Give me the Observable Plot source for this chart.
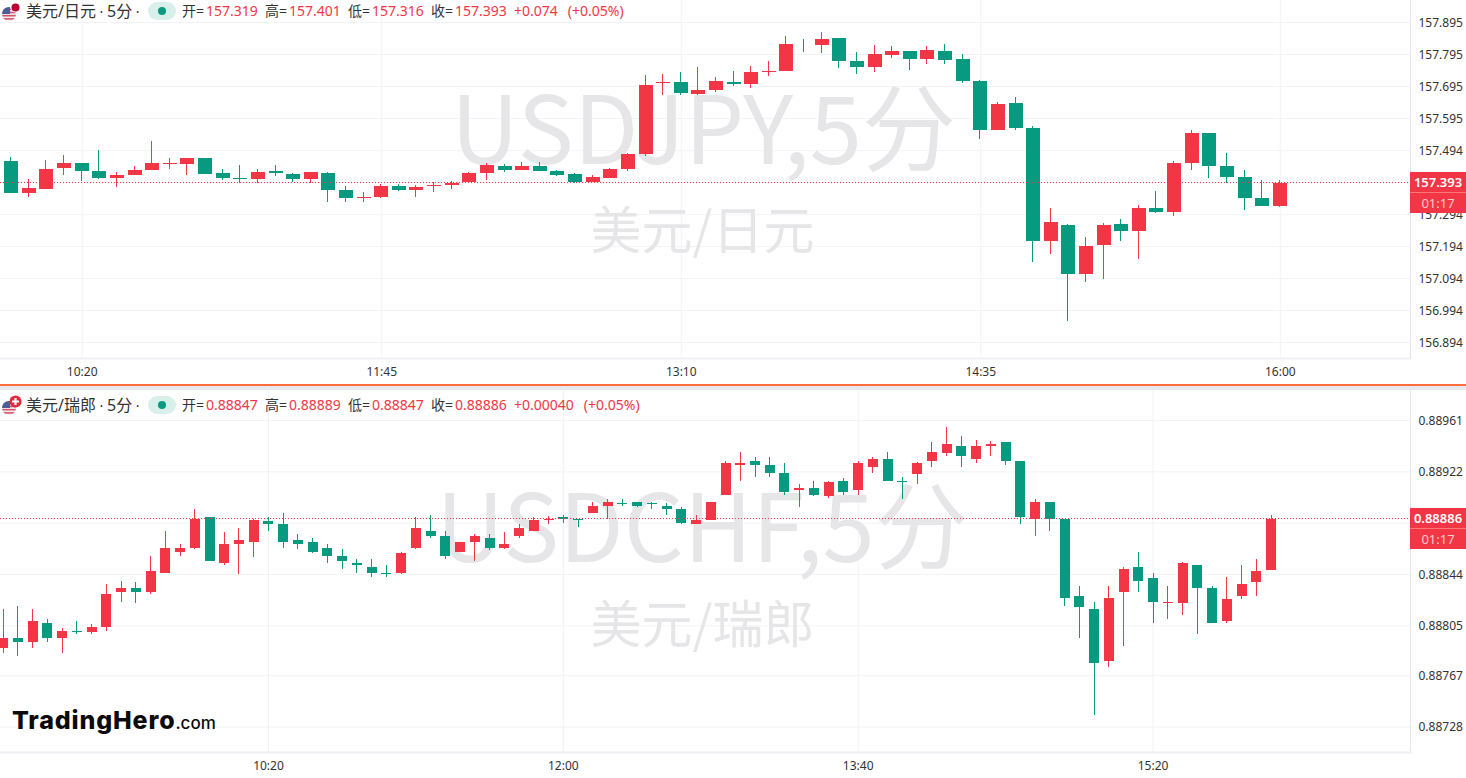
<!DOCTYPE html>
<html><head><meta charset="utf-8">
<script src="https://cdn.jsdelivr.net/npm/d3@7"></script>
<script src="https://cdn.jsdelivr.net/npm/@observablehq/plot@0.6"></script>
<style>
html,body{margin:0;padding:0;background:#fff;width:1466px;height:778px;overflow:hidden;font-family:"Noto Sans","Noto Sans CJK SC",sans-serif}
#stage{position:relative;width:1466px;height:778px}
svg{display:block}
.sep1{height:2px;background:#ff6d3f}.sep2{height:4px;background:#e8e8ef}
.h{position:absolute;font-size:14px;line-height:20px;white-space:nowrap;color:#333}
.p{font-size:16px}
.r{color:#f23645}
.v{margin-left:2px}
.box{position:absolute;left:1410px;width:56px;height:20px;line-height:20px;background:#f23645;text-align:center;font-size:13px;color:#fff}
.pill{position:absolute;left:148px;width:28px;height:18px;border-radius:9px;background:#d8efea}
.pill i{position:absolute;left:10px;top:5px;width:8px;height:8px;border-radius:4px;background:#089981}
.logo{position:absolute;left:12px;top:700px;font-family:Inter,"Noto Sans",sans-serif;font-weight:800;font-size:25px;letter-spacing:0.85px;line-height:40px;color:#0b0b0b;white-space:nowrap}
.logo span{font-size:17px;font-weight:500;letter-spacing:0;margin-left:0}
</style></head><body><div id="stage"><div id="c1"></div><div class="sep1"></div><div class="sep2"></div><div id="c2"></div></div>
<script>
const jpyOpen=[157.461,157.361,157.373,157.439,157.455,157.429,157.408,157.417,157.433,157.451,157.451,157.470,157.423,157.408,157.404,157.429,157.420,157.404,157.423,157.370,157.345,157.348,157.383,157.370,157.383,157.386,157.394,157.423,157.445,157.433,157.445,157.429,157.420,157.395,157.408,157.436,157.483,157.705,157.708,157.670,157.683,157.708,157.702,157.739,157.742,157.827,157.824,157.845,157.773,157.755,157.792,157.805,157.780,157.805,157.780,157.711,157.558,157.642,157.564,157.210,157.260,157.107,157.198,157.264,157.242,157.314,157.301,157.455,157.548,157.445,157.411,157.345,157.319];
const jpyClose=[157.361,157.376,157.436,157.455,157.429,157.408,157.417,157.433,157.455,157.455,157.470,157.420,157.408,157.404,157.426,157.423,157.404,157.426,157.370,157.345,157.348,157.383,157.370,157.379,157.386,157.392,157.423,157.448,157.433,157.445,157.429,157.417,157.395,157.411,157.436,157.483,157.698,157.708,157.673,157.683,157.711,157.702,157.739,157.742,157.827,157.825,157.842,157.773,157.755,157.795,157.805,157.780,157.808,157.777,157.711,157.558,157.639,157.564,157.210,157.270,157.107,157.195,157.260,157.242,157.314,157.301,157.455,157.548,157.445,157.411,157.345,157.320,157.393];
const jpyHigh=[157.473,157.404,157.464,157.479,157.455,157.495,157.426,157.445,157.523,157.470,157.470,157.470,157.436,157.448,157.436,157.448,157.423,157.426,157.426,157.383,157.364,157.389,157.389,157.386,157.395,157.398,157.426,157.455,157.451,157.458,157.458,157.433,157.423,157.417,157.439,157.486,157.730,157.733,157.739,157.755,157.723,157.742,157.758,157.773,157.852,157.842,157.864,157.845,157.802,157.824,157.820,157.805,157.820,157.827,157.795,157.714,157.645,157.661,157.570,157.314,157.264,157.223,157.267,157.279,157.323,157.367,157.461,157.558,157.548,157.486,157.433,157.401,157.401];
const jpyLow=[157.361,157.348,157.373,157.417,157.398,157.404,157.379,157.417,157.433,157.436,157.417,157.420,157.401,157.392,157.392,157.414,157.395,157.392,157.332,157.332,157.332,157.345,157.367,157.348,157.364,157.373,157.394,157.401,157.426,157.433,157.429,157.414,157.392,157.395,157.408,157.429,157.476,157.667,157.667,157.667,157.677,157.695,157.689,157.727,157.742,157.802,157.799,157.752,157.733,157.739,157.783,157.745,157.764,157.764,157.705,157.530,157.558,157.558,157.145,157.170,156.960,157.082,157.092,157.210,157.154,157.298,157.289,157.433,157.408,157.392,157.307,157.320,157.316];
const jpyGridTicks=[157.895,157.795,157.695,157.595,157.494,157.394,157.294,157.194,157.094,156.994,156.894];
const jpyLabelTicks=[157.895,157.795,157.695,157.595,157.494,157.294,157.194,157.094,156.994,156.894];
const jpyTimeBars=[4,21,38,55,72];
const jpyTimeLabels=["10:20","11:45","13:10","14:35","16:00"];

const chfOpen=[0.88788,0.88795,0.88792,0.88807,0.88795,0.88801,0.88800,0.88804,0.88830,0.88833,0.88830,0.88845,0.88861,0.88864,0.88887,0.88852,0.88867,0.88868,0.88884,0.88882,0.88870,0.88868,0.88864,0.88858,0.88852,0.88849,0.88845,0.88845,0.88864,0.88877,0.88873,0.88861,0.88868,0.88871,0.88864,0.88873,0.88877,0.88885,0.88887,0.88886,0.88890,0.88896,0.88898,0.88899,0.88898,0.88896,0.88893,0.88882,0.88885,0.88904,0.88927,0.88930,0.88927,0.88921,0.88908,0.88909,0.88903,0.88915,0.88908,0.88925,0.88931,0.88915,0.88920,0.88930,0.88936,0.88941,0.88931,0.88941,0.88944,0.88930,0.88886,0.88899,0.88886,0.88827,0.88817,0.88778,0.88830,0.88849,0.88841,0.88822,0.88822,0.88851,0.88833,0.88808,0.88827,0.88838,0.88847];
const chfClose=[0.88795,0.88792,0.88808,0.88795,0.88801,0.88800,0.88804,0.88829,0.88833,0.88830,0.88846,0.88864,0.88864,0.88886,0.88854,0.88867,0.88870,0.88885,0.88882,0.88868,0.88867,0.88861,0.88858,0.88854,0.88851,0.88845,0.88844,0.88860,0.88879,0.88873,0.88858,0.88868,0.88873,0.88864,0.88867,0.88879,0.88885,0.88886,0.88886,0.88885,0.88896,0.88899,0.88897,0.88896,0.88897,0.88893,0.88883,0.88885,0.88899,0.88928,0.88928,0.88927,0.88921,0.88906,0.88909,0.88904,0.88914,0.88906,0.88928,0.88931,0.88915,0.88914,0.88928,0.88937,0.88943,0.88934,0.88941,0.88943,0.88930,0.88887,0.88899,0.88886,0.88826,0.88819,0.88776,0.88826,0.88848,0.88839,0.88823,0.88823,0.88852,0.88833,0.88807,0.88825,0.88836,0.88846,0.88886];
const chfHigh=[0.88817,0.88820,0.88817,0.88810,0.88803,0.88808,0.88806,0.88836,0.88839,0.88838,0.88858,0.88877,0.88867,0.88893,0.88887,0.88876,0.88879,0.88886,0.88887,0.88890,0.88874,0.88871,0.88867,0.88863,0.88855,0.88855,0.88851,0.88861,0.88887,0.88889,0.88877,0.88868,0.88874,0.88874,0.88876,0.88882,0.88887,0.88888,0.88889,0.88886,0.88899,0.88901,0.88901,0.88899,0.88899,0.88898,0.88895,0.88889,0.88899,0.88930,0.88937,0.88933,0.88933,0.88928,0.88912,0.88915,0.88915,0.88917,0.88930,0.88933,0.88937,0.88918,0.88929,0.88944,0.88956,0.88949,0.88946,0.88945,0.88944,0.88930,0.88901,0.88899,0.88886,0.88835,0.88823,0.88835,0.88849,0.88861,0.88845,0.88835,0.88853,0.88851,0.88835,0.88842,0.88851,0.88855,0.88889];
const chfLow=[0.88784,0.88782,0.88788,0.88792,0.88784,0.88798,0.88798,0.88801,0.88823,0.88822,0.88829,0.88845,0.88858,0.88863,0.88854,0.88851,0.88844,0.88857,0.88877,0.88864,0.88863,0.88860,0.88852,0.88848,0.88845,0.88842,0.88842,0.88844,0.88863,0.88871,0.88855,0.88861,0.88854,0.88862,0.88863,0.88871,0.88877,0.88882,0.88883,0.88880,0.88890,0.88886,0.88896,0.88895,0.88893,0.88889,0.88882,0.88882,0.88885,0.88904,0.88915,0.88918,0.88918,0.88904,0.88895,0.88903,0.88902,0.88904,0.88904,0.88921,0.88915,0.88901,0.88912,0.88925,0.88934,0.88925,0.88928,0.88934,0.88927,0.88882,0.88873,0.88877,0.88820,0.88795,0.88737,0.88773,0.88789,0.88830,0.88807,0.88810,0.88813,0.88798,0.88807,0.88807,0.88825,0.88827,0.88847];
const chfGridTicks=[0.88961,0.88922,0.88883,0.88844,0.88805,0.88767,0.88728];
const chfLabelTicks=[0.88961,0.88922,0.88844,0.88805,0.88767,0.88728];
const chfTimeBars=[18,38,58,78];
const chfTimeLabels=["10:20","12:00","13:40","15:20"];

const UP="#f23645",DOWN="#089981",GRID="#f2f3f6",EDGE="#e3e5ec",MARK="#e6e6e8";

function pane({open,close,high,low,gridTicks,labelTicks,timeBars,timeLabels,fmt,xDomain,yDomain,h,bodyW,bodyDx,wickDx,labelDy,wm1,wm2,dy1,dy2,dx1,dx2}){
  const rows=open.map((o,i)=>({i,o,c:close[i],h:high[i],l:low[i],dir:close[i]>=o?"up":"down"}));
  const last=close[close.length-1];
  return Plot.plot({
    width:1466,height:h,marginLeft:0,marginRight:56,marginTop:0,marginBottom:26,
    style:{fontFamily:'"Noto Sans","Noto Sans CJK SC",sans-serif',fontSize:"12px",color:"#333",background:"#fff"},
    x:{type:"linear",domain:xDomain,axis:null},
    y:{domain:yDomain,axis:null},
    color:{domain:["up","down"],range:[UP,DOWN]},
    marks:[
      Plot.gridX(timeBars,{x:d=>d,stroke:GRID,strokeOpacity:1}),
      Plot.gridY(gridTicks,{y:d=>d,stroke:GRID,strokeOpacity:1}),
      Plot.text([wm1],{text:d=>d,frameAnchor:"top",lineAnchor:"middle",dy:dy1,dx:dx1,fontSize:94,fill:MARK,fontFamily:'"Noto Sans CJK SC"'}),
      Plot.text([wm2],{text:d=>d,frameAnchor:"top",lineAnchor:"middle",dy:dy2,dx:dx2,fontSize:51,fill:MARK,fontFamily:'"Noto Sans CJK SC"'}),
      Plot.ruleX(rows,{x:"i",y1:"l",y2:"h",stroke:"dir",strokeWidth:1,dx:wickDx,shapeRendering:"crispEdges"}),
      Plot.ruleX(rows,{x:"i",y1:"o",y2:"c",stroke:"dir",strokeWidth:bodyW,dx:bodyDx,shapeRendering:"crispEdges"}),
      Plot.ruleY([last],{y:d=>d,stroke:UP,strokeOpacity:1,strokeDasharray:"1 2",strokeWidth:1,dy:-1,shapeRendering:"crispEdges"}),
      Plot.frame({anchor:"right",stroke:EDGE}),
      Plot.frame({anchor:"bottom",stroke:"#eff0f4",strokeWidth:2}),
      Plot.axisY({anchor:"right",label:null,ticks:labelTicks,tickFormat:fmt,tickSize:0,tickPadding:8,dy:labelDy,fontSize:12,fill:"#333"}),
      Plot.axisX({anchor:"bottom",label:null,ticks:timeBars,tickFormat:d=>timeLabels[timeBars.indexOf(d)],tickSize:0,tickPadding:9,fontSize:12,fill:"#333"})
    ]
  });
}

document.getElementById("c1").append(pane({open:jpyOpen,close:jpyClose,high:jpyHigh,low:jpyLow,gridTicks:jpyGridTicks,labelTicks:jpyLabelTicks,timeBars:jpyTimeBars,timeLabels:jpyTimeLabels,fmt:d3.format(".3f"),xDomain:[-0.637,79.39],yDomain:[156.844,157.964],h:384,bodyW:14,bodyDx:-0.5,wickDx:-1,labelDy:0.5,wm1:"USDJPY,5分",wm2:"美元/日元",dy1:133,dy2:232,dx1:-2,dx2:-3}));
document.getElementById("c2").append(pane({open:chfOpen,close:chfClose,high:chfHigh,low:chfLow,gridTicks:chfGridTicks,labelTicks:chfLabelTicks,timeBars:chfTimeBars,timeLabels:chfTimeLabels,fmt:d3.format(".5f"),xDomain:[-0.176,95.46],yDomain:[0.887087,0.889838],h:388,bodyW:10,bodyDx:0,wickDx:0,labelDy:0.5,wm1:"USDCHF,5分",wm2:"美元/瑞郎",dy1:141,dy2:236,dx1:-3,dx2:-3}));

const stage=document.getElementById("stage");
function add(html){stage.insertAdjacentHTML("beforeend",html);}
function header(top,pair,o,h,l,c,chg,pct,cross,prefix){
  add(`<svg style="position:absolute;left:0;top:${top-11}px" width="24" height="24" viewBox="0 0 24 24"><defs><clipPath id="${prefix}f"><circle cx="9" cy="14" r="7"/></clipPath></defs><g clip-path="url(#${prefix}f)"><rect x="2" y="7" width="14" height="14" fill="#eee"/><rect x="2" y="8.5" width="14" height="1.6" fill="#d9536b"/><rect x="2" y="11.7" width="14" height="1.6" fill="#d9536b"/><rect x="2" y="14.9" width="14" height="1.6" fill="#d9536b"/><rect x="2" y="18.1" width="14" height="1.6" fill="#d9536b"/><rect x="2" y="7" width="8" height="7" fill="#4b5f96"/></g>${cross?'<circle cx="15.5" cy="7.5" r="6" fill="#e3283b"/><path d="M15.5 4v7M12 7.5h7" stroke="#fff" stroke-width="2.2"/>':'<circle cx="15.5" cy="7.5" r="5" fill="#fff"/><circle cx="15.5" cy="7.5" r="4" fill="#bc0030"/>'}</svg>`);
  add(`<div class="h" style="left:26px;top:${top-10}px"><span class="p">${pair}</span> · <span class="p">5分</span> ·</div>`);
  add(`<div class="pill" style="top:${top-9}px"><i></i></div>`);
  const items=[["开",o,182],["高",h,265],["低",l,348],["收",c,431]];
  for(const [k,v,x] of items) add(`<div class="h" style="left:${x}px;top:${top-10}px">${k}=<span class="r v">${v}</span></div>`);
  add(`<div class="h r" style="left:514px;top:${top-10}px">${chg}<span style="margin-left:10px">(${pct})</span></div>`);
}
header(11,"美元/日元","157.319","157.401","157.316","157.393","+0.074","+0.05%",false,"a");
header(405,"美元/瑞郎","0.88847","0.88889","0.88847","0.88886","+0.00040","+0.05%",true,"b");
add(`<div class="box" style="top:172px;font-weight:600;border-bottom:1px solid #f77">157.393</div><div class="box" style="top:193px;color:#fcc">01:17</div>`);
add(`<div class="box" style="top:508px;font-weight:600;border-bottom:1px solid #f77">0.88886</div><div class="box" style="top:529px;color:#fcc">01:17</div>`);
add(`<div class="logo">TradingHero<span>.com</span></div>`);
</script></body></html>
